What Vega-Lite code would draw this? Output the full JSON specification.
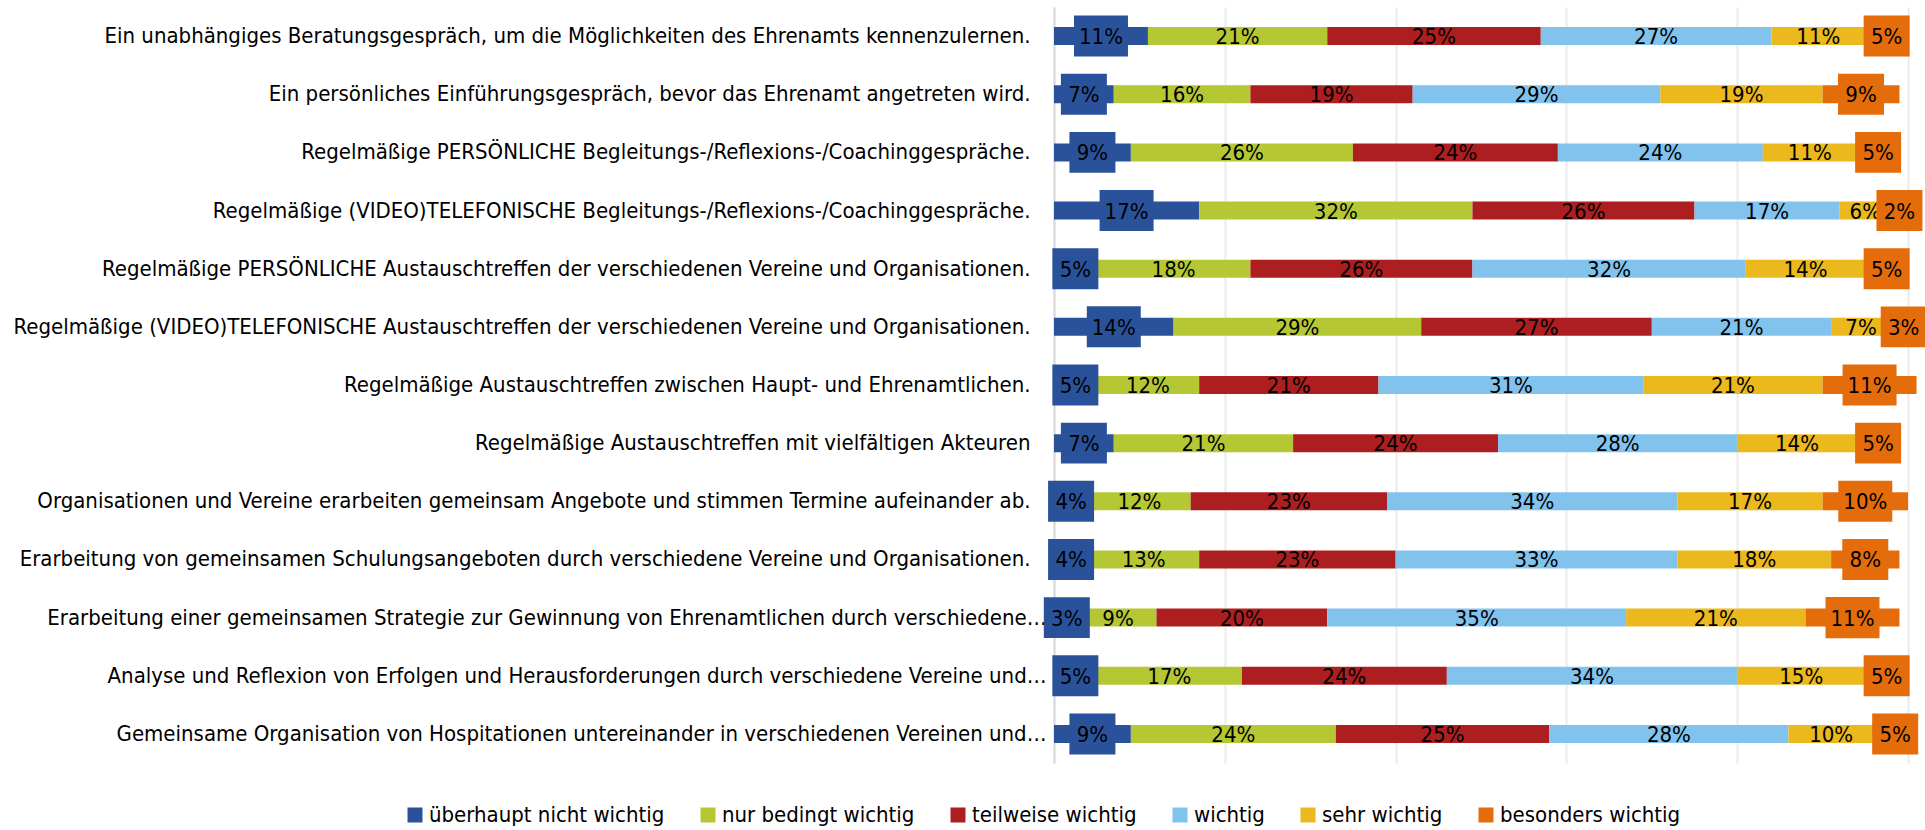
{
  "$schema": "https://vega.github.io/schema/vega-lite/v6.json",
  "autosize": {"type": "none"},
  "padding": {"left": 1054, "top": 7, "right": 17, "bottom": 67},
  "width": 854,
  "height": 756,
  "config": {
    "view": {"stroke": null},
    "font": "DejaVu Sans Condensed",
    "text": {"font": "DejaVu Sans Condensed"}
  },
  "data": {"values": [
    {"q": "Ein unabhängiges Beratungsgespräch, um die Möglichkeiten des Ehrenamts kennenzulernen.", "c": "überhaupt nicht wichtig", "v": 0.11},
    {"q": "Ein unabhängiges Beratungsgespräch, um die Möglichkeiten des Ehrenamts kennenzulernen.", "c": "nur bedingt wichtig", "v": 0.21},
    {"q": "Ein unabhängiges Beratungsgespräch, um die Möglichkeiten des Ehrenamts kennenzulernen.", "c": "teilweise wichtig", "v": 0.25},
    {"q": "Ein unabhängiges Beratungsgespräch, um die Möglichkeiten des Ehrenamts kennenzulernen.", "c": "wichtig", "v": 0.27},
    {"q": "Ein unabhängiges Beratungsgespräch, um die Möglichkeiten des Ehrenamts kennenzulernen.", "c": "sehr wichtig", "v": 0.11},
    {"q": "Ein unabhängiges Beratungsgespräch, um die Möglichkeiten des Ehrenamts kennenzulernen.", "c": "besonders wichtig", "v": 0.05},

    {"q": "Ein persönliches Einführungsgespräch, bevor das Ehrenamt angetreten wird.", "c": "überhaupt nicht wichtig", "v": 0.07},
    {"q": "Ein persönliches Einführungsgespräch, bevor das Ehrenamt angetreten wird.", "c": "nur bedingt wichtig", "v": 0.16},
    {"q": "Ein persönliches Einführungsgespräch, bevor das Ehrenamt angetreten wird.", "c": "teilweise wichtig", "v": 0.19},
    {"q": "Ein persönliches Einführungsgespräch, bevor das Ehrenamt angetreten wird.", "c": "wichtig", "v": 0.29},
    {"q": "Ein persönliches Einführungsgespräch, bevor das Ehrenamt angetreten wird.", "c": "sehr wichtig", "v": 0.19},
    {"q": "Ein persönliches Einführungsgespräch, bevor das Ehrenamt angetreten wird.", "c": "besonders wichtig", "v": 0.09},

    {"q": "Regelmäßige PERSÖNLICHE Begleitungs-/Reflexions-/Coachinggespräche.", "c": "überhaupt nicht wichtig", "v": 0.09},
    {"q": "Regelmäßige PERSÖNLICHE Begleitungs-/Reflexions-/Coachinggespräche.", "c": "nur bedingt wichtig", "v": 0.26},
    {"q": "Regelmäßige PERSÖNLICHE Begleitungs-/Reflexions-/Coachinggespräche.", "c": "teilweise wichtig", "v": 0.24},
    {"q": "Regelmäßige PERSÖNLICHE Begleitungs-/Reflexions-/Coachinggespräche.", "c": "wichtig", "v": 0.24},
    {"q": "Regelmäßige PERSÖNLICHE Begleitungs-/Reflexions-/Coachinggespräche.", "c": "sehr wichtig", "v": 0.11},
    {"q": "Regelmäßige PERSÖNLICHE Begleitungs-/Reflexions-/Coachinggespräche.", "c": "besonders wichtig", "v": 0.05},

    {"q": "Regelmäßige (VIDEO)TELEFONISCHE Begleitungs-/Reflexions-/Coachinggespräche.", "c": "überhaupt nicht wichtig", "v": 0.17},
    {"q": "Regelmäßige (VIDEO)TELEFONISCHE Begleitungs-/Reflexions-/Coachinggespräche.", "c": "nur bedingt wichtig", "v": 0.32},
    {"q": "Regelmäßige (VIDEO)TELEFONISCHE Begleitungs-/Reflexions-/Coachinggespräche.", "c": "teilweise wichtig", "v": 0.26},
    {"q": "Regelmäßige (VIDEO)TELEFONISCHE Begleitungs-/Reflexions-/Coachinggespräche.", "c": "wichtig", "v": 0.17},
    {"q": "Regelmäßige (VIDEO)TELEFONISCHE Begleitungs-/Reflexions-/Coachinggespräche.", "c": "sehr wichtig", "v": 0.06},
    {"q": "Regelmäßige (VIDEO)TELEFONISCHE Begleitungs-/Reflexions-/Coachinggespräche.", "c": "besonders wichtig", "v": 0.02},

    {"q": "Regelmäßige PERSÖNLICHE Austauschtreffen der verschiedenen Vereine und Organisationen.", "c": "überhaupt nicht wichtig", "v": 0.05},
    {"q": "Regelmäßige PERSÖNLICHE Austauschtreffen der verschiedenen Vereine und Organisationen.", "c": "nur bedingt wichtig", "v": 0.18},
    {"q": "Regelmäßige PERSÖNLICHE Austauschtreffen der verschiedenen Vereine und Organisationen.", "c": "teilweise wichtig", "v": 0.26},
    {"q": "Regelmäßige PERSÖNLICHE Austauschtreffen der verschiedenen Vereine und Organisationen.", "c": "wichtig", "v": 0.32},
    {"q": "Regelmäßige PERSÖNLICHE Austauschtreffen der verschiedenen Vereine und Organisationen.", "c": "sehr wichtig", "v": 0.14},
    {"q": "Regelmäßige PERSÖNLICHE Austauschtreffen der verschiedenen Vereine und Organisationen.", "c": "besonders wichtig", "v": 0.05},

    {"q": "Regelmäßige (VIDEO)TELEFONISCHE Austauschtreffen der verschiedenen Vereine und Organisationen.", "c": "überhaupt nicht wichtig", "v": 0.14},
    {"q": "Regelmäßige (VIDEO)TELEFONISCHE Austauschtreffen der verschiedenen Vereine und Organisationen.", "c": "nur bedingt wichtig", "v": 0.29},
    {"q": "Regelmäßige (VIDEO)TELEFONISCHE Austauschtreffen der verschiedenen Vereine und Organisationen.", "c": "teilweise wichtig", "v": 0.27},
    {"q": "Regelmäßige (VIDEO)TELEFONISCHE Austauschtreffen der verschiedenen Vereine und Organisationen.", "c": "wichtig", "v": 0.21},
    {"q": "Regelmäßige (VIDEO)TELEFONISCHE Austauschtreffen der verschiedenen Vereine und Organisationen.", "c": "sehr wichtig", "v": 0.07},
    {"q": "Regelmäßige (VIDEO)TELEFONISCHE Austauschtreffen der verschiedenen Vereine und Organisationen.", "c": "besonders wichtig", "v": 0.03},

    {"q": "Regelmäßige Austauschtreffen zwischen Haupt- und Ehrenamtlichen.", "c": "überhaupt nicht wichtig", "v": 0.05},
    {"q": "Regelmäßige Austauschtreffen zwischen Haupt- und Ehrenamtlichen.", "c": "nur bedingt wichtig", "v": 0.12},
    {"q": "Regelmäßige Austauschtreffen zwischen Haupt- und Ehrenamtlichen.", "c": "teilweise wichtig", "v": 0.21},
    {"q": "Regelmäßige Austauschtreffen zwischen Haupt- und Ehrenamtlichen.", "c": "wichtig", "v": 0.31},
    {"q": "Regelmäßige Austauschtreffen zwischen Haupt- und Ehrenamtlichen.", "c": "sehr wichtig", "v": 0.21},
    {"q": "Regelmäßige Austauschtreffen zwischen Haupt- und Ehrenamtlichen.", "c": "besonders wichtig", "v": 0.11},

    {"q": "Regelmäßige Austauschtreffen mit vielfältigen Akteuren", "c": "überhaupt nicht wichtig", "v": 0.07},
    {"q": "Regelmäßige Austauschtreffen mit vielfältigen Akteuren", "c": "nur bedingt wichtig", "v": 0.21},
    {"q": "Regelmäßige Austauschtreffen mit vielfältigen Akteuren", "c": "teilweise wichtig", "v": 0.24},
    {"q": "Regelmäßige Austauschtreffen mit vielfältigen Akteuren", "c": "wichtig", "v": 0.28},
    {"q": "Regelmäßige Austauschtreffen mit vielfältigen Akteuren", "c": "sehr wichtig", "v": 0.14},
    {"q": "Regelmäßige Austauschtreffen mit vielfältigen Akteuren", "c": "besonders wichtig", "v": 0.05},

    {"q": "Organisationen und Vereine erarbeiten gemeinsam Angebote und stimmen Termine aufeinander ab.", "c": "überhaupt nicht wichtig", "v": 0.04},
    {"q": "Organisationen und Vereine erarbeiten gemeinsam Angebote und stimmen Termine aufeinander ab.", "c": "nur bedingt wichtig", "v": 0.12},
    {"q": "Organisationen und Vereine erarbeiten gemeinsam Angebote und stimmen Termine aufeinander ab.", "c": "teilweise wichtig", "v": 0.23},
    {"q": "Organisationen und Vereine erarbeiten gemeinsam Angebote und stimmen Termine aufeinander ab.", "c": "wichtig", "v": 0.34},
    {"q": "Organisationen und Vereine erarbeiten gemeinsam Angebote und stimmen Termine aufeinander ab.", "c": "sehr wichtig", "v": 0.17},
    {"q": "Organisationen und Vereine erarbeiten gemeinsam Angebote und stimmen Termine aufeinander ab.", "c": "besonders wichtig", "v": 0.10},

    {"q": "Erarbeitung von gemeinsamen Schulungsangeboten durch verschiedene Vereine und Organisationen.", "c": "überhaupt nicht wichtig", "v": 0.04},
    {"q": "Erarbeitung von gemeinsamen Schulungsangeboten durch verschiedene Vereine und Organisationen.", "c": "nur bedingt wichtig", "v": 0.13},
    {"q": "Erarbeitung von gemeinsamen Schulungsangeboten durch verschiedene Vereine und Organisationen.", "c": "teilweise wichtig", "v": 0.23},
    {"q": "Erarbeitung von gemeinsamen Schulungsangeboten durch verschiedene Vereine und Organisationen.", "c": "wichtig", "v": 0.33},
    {"q": "Erarbeitung von gemeinsamen Schulungsangeboten durch verschiedene Vereine und Organisationen.", "c": "sehr wichtig", "v": 0.18},
    {"q": "Erarbeitung von gemeinsamen Schulungsangeboten durch verschiedene Vereine und Organisationen.", "c": "besonders wichtig", "v": 0.08},

    {"q": "Erarbeitung einer gemeinsamen Strategie zur Gewinnung von Ehrenamtlichen durch verschiedene…", "c": "überhaupt nicht wichtig", "v": 0.03},
    {"q": "Erarbeitung einer gemeinsamen Strategie zur Gewinnung von Ehrenamtlichen durch verschiedene…", "c": "nur bedingt wichtig", "v": 0.09},
    {"q": "Erarbeitung einer gemeinsamen Strategie zur Gewinnung von Ehrenamtlichen durch verschiedene…", "c": "teilweise wichtig", "v": 0.20},
    {"q": "Erarbeitung einer gemeinsamen Strategie zur Gewinnung von Ehrenamtlichen durch verschiedene…", "c": "wichtig", "v": 0.35},
    {"q": "Erarbeitung einer gemeinsamen Strategie zur Gewinnung von Ehrenamtlichen durch verschiedene…", "c": "sehr wichtig", "v": 0.21},
    {"q": "Erarbeitung einer gemeinsamen Strategie zur Gewinnung von Ehrenamtlichen durch verschiedene…", "c": "besonders wichtig", "v": 0.11},

    {"q": "Analyse und Reflexion von Erfolgen und Herausforderungen durch verschiedene Vereine und…", "c": "überhaupt nicht wichtig", "v": 0.05},
    {"q": "Analyse und Reflexion von Erfolgen und Herausforderungen durch verschiedene Vereine und…", "c": "nur bedingt wichtig", "v": 0.17},
    {"q": "Analyse und Reflexion von Erfolgen und Herausforderungen durch verschiedene Vereine und…", "c": "teilweise wichtig", "v": 0.24},
    {"q": "Analyse und Reflexion von Erfolgen und Herausforderungen durch verschiedene Vereine und…", "c": "wichtig", "v": 0.34},
    {"q": "Analyse und Reflexion von Erfolgen und Herausforderungen durch verschiedene Vereine und…", "c": "sehr wichtig", "v": 0.15},
    {"q": "Analyse und Reflexion von Erfolgen und Herausforderungen durch verschiedene Vereine und…", "c": "besonders wichtig", "v": 0.05},

    {"q": "Gemeinsame Organisation von Hospitationen untereinander in verschiedenen Vereinen und…", "c": "überhaupt nicht wichtig", "v": 0.09},
    {"q": "Gemeinsame Organisation von Hospitationen untereinander in verschiedenen Vereinen und…", "c": "nur bedingt wichtig", "v": 0.24},
    {"q": "Gemeinsame Organisation von Hospitationen untereinander in verschiedenen Vereinen und…", "c": "teilweise wichtig", "v": 0.25},
    {"q": "Gemeinsame Organisation von Hospitationen untereinander in verschiedenen Vereinen und…", "c": "wichtig", "v": 0.28},
    {"q": "Gemeinsame Organisation von Hospitationen untereinander in verschiedenen Vereinen und…", "c": "sehr wichtig", "v": 0.10},
    {"q": "Gemeinsame Organisation von Hospitationen untereinander in verschiedenen Vereinen und…", "c": "besonders wichtig", "v": 0.05}
  ]},
  "transform": [
    {"stack": "v", "groupby": ["q"], "as": ["x0", "x1"]},
    {"calculate": "(datum.x0 + datum.x1) / 2", "as": "mid"}
  ],
  "encoding": {
    "y": {
      "field": "q", "type": "nominal", "sort": null,
      "scale": {"paddingInner": 0, "paddingOuter": 0},
      "axis": {
        "title": null, "ticks": false, "domain": true, "domainColor": "#d9d9d9", "domainWidth": 2,
        "labelFontSize": 22, "labelColor": "#000000", "labelLimit": 1100,
        "labelPadding": {"condition": {"test": "indexof(datum.value, '…') >= 0", "value": 8}, "value": 24}
      }
    }
  },
  "layer": [
    {
      "mark": {"type": "bar", "size": 18},
      "encoding": {
        "x": {
          "field": "x0", "type": "quantitative",
          "scale": {"domain": [0, 1], "nice": false},
          "axis": {"values": [0, 0.2, 0.4, 0.6, 0.8, 1], "labels": false, "ticks": false, "domain": false, "title": null, "grid": true, "gridColor": "#ebebeb", "gridWidth": 2}
        },
        "x2": {"field": "x1"},
        "color": {
          "field": "c", "type": "nominal",
          "scale": {
            "domain": ["überhaupt nicht wichtig", "nur bedingt wichtig", "teilweise wichtig", "wichtig", "sehr wichtig", "besonders wichtig"],
            "range": ["#2A529B", "#B5C833", "#AD1E21", "#82C3EE", "#EBB81D", "#E46C0B"]
          },
          "legend": {
            "title": null, "orient": "none", "legendX": -650, "legendY": 797,
            "direction": "horizontal", "columns": 6, "columnPadding": 32,
            "symbolType": "square", "symbolSize": 225, "symbolStrokeWidth": 0,
            "labelFontSize": 22, "labelColor": "#000000", "labelOffset": 3, "labelLimit": 400
          }
        }
      }
    },
    {
      "transform": [{"filter": "datum.c !== 'überhaupt nicht wichtig' && datum.c !== 'besonders wichtig'"}],
      "mark": {"type": "text", "fontSize": 22, "color": "#000000", "baseline": "middle", "align": "center", "dy": 1},
      "encoding": {
        "x": {"field": "mid", "type": "quantitative"},
        "text": {"field": "v", "format": ".0%"}
      }
    },
    {
      "transform": [{"filter": "datum.c === 'überhaupt nicht wichtig' || datum.c === 'besonders wichtig'"}],
      "mark": {"type": "point", "filled": true, "opacity": 1, "strokeWidth": 0},
      "encoding": {
        "x": {"field": "mid", "type": "quantitative"},
        "color": {"field": "c", "type": "nominal", "legend": null},
        "shape": {"condition": {"test": "datum.v >= 0.095", "value": "M-1,-0.76H1V0.76H-1Z"}, "value": "M-1,-0.89H1V0.89H-1Z"},
        "size": {"condition": {"test": "datum.v >= 0.095", "value": 2916}, "value": 2116}
      }
    },
    {
      "transform": [{"filter": "datum.c === 'überhaupt nicht wichtig' || datum.c === 'besonders wichtig'"}],
      "mark": {"type": "text", "fontSize": 22, "color": "#000000", "baseline": "middle", "align": "center", "dy": 1},
      "encoding": {
        "x": {"field": "mid", "type": "quantitative"},
        "text": {"field": "v", "format": ".0%"}
      }
    }
  ]
}
